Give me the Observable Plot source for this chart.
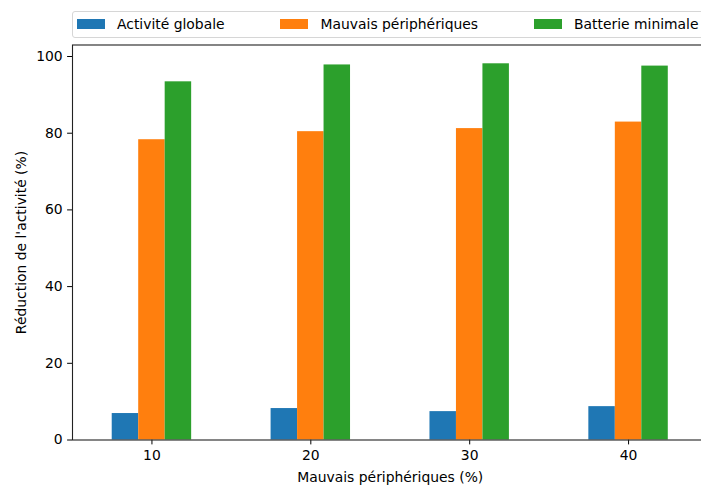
<!DOCTYPE html>
<html>
<head>
<meta charset="utf-8">
<script src="https://cdn.jsdelivr.net/npm/d3@7"></script>
<script src="https://cdn.jsdelivr.net/npm/@observablehq/plot@0.6"></script>
<style>
  html, body { margin: 0; padding: 0; background: #fff; overflow: hidden; }
  #wrap { position: relative; width: 701px; height: 486px; overflow: hidden; font-family: "DejaVu Sans", sans-serif; }
  #legend {
    position: absolute; left: 72px; top: 11px; width: 635.5px; height: 26.5px;
    box-sizing: border-box; border: 1px solid #d6d6d6; border-radius: 3px;
    background: rgba(255,255,255,0.8);
    display: flex; justify-content: space-between; align-items: center;
    padding: 0 8px 0 4px; font-size: 13.9px; color: #000; z-index: 2;
  }
  .item { display: flex; align-items: center; white-space: nowrap; }
  .sw { width: 28px; height: 10px; margin-right: 12px; }
</style>
</head>
<body>
<div id="wrap"><div id="legend"></div></div>
<script>
// ---- data ----
const categories = [10, 20, 30, 40];
const tickLabels = ["10", "20", "30", "40"];
const seriesNames = ["Activité globale", "Mauvais périphériques", "Batterie minimale"];
const activiteGlobale = [6.9, 8.2, 7.4, 8.7];
const mauvaisPeripheriques = [78.3, 80.4, 81.2, 82.9];
const batterieMinimale = [93.4, 97.8, 98.1, 97.5];
const colors = ["#1f77b4", "#ff7f0e", "#2ca02c"];

const seriesValues = [activiteGlobale, mauvaisPeripheriques, batterieMinimale];
const step = 10;           // spacing between categories (data units)
const groupWidth = 0.5 * step;
const barWidth = groupWidth / seriesNames.length;

const rows = [];
seriesNames.forEach((s, i) => {
  categories.forEach((c, j) => {
    rows.push({series: s, index: i, cat: c, value: seriesValues[i][j]});
  });
});

const chart = Plot.plot({
  width: 701,
  height: 486,
  marginLeft: 72,
  marginRight: -6.5,
  marginTop: 44.5,
  marginBottom: 46.5,
  style: {fontFamily: "DejaVu Sans", fontSize: "13.9px", color: "#000", background: "white"},
  x: {
    type: "linear",
    domain: [categories[0] - step / 2, categories[categories.length - 1] + step / 2],
    ticks: categories,
    tickFormat: (d) => tickLabels[categories.indexOf(d)],
    tickSize: 4.9,
    tickPadding: 4.9,
    label: "Mauvais périphériques (%)",
    labelAnchor: "center",
    labelOffset: 42,
    labelArrow: "none"
  },
  y: {
    domain: [0, 103.0],
    ticks: [0, 20, 40, 60, 80, 100],
    tickSize: 4.9,
    tickPadding: 4.9,
    label: "Réduction de l'activité (%)",
    labelAnchor: "center",
    labelOffset: 56,
    labelArrow: "none"
  },
  color: {domain: seriesNames, range: colors},
  marks: [
    Plot.rectY(rows, {
      x1: (d) => d.cat - groupWidth / 2 + d.index * barWidth,
      x2: (d) => d.cat - groupWidth / 2 + (d.index + 1) * barWidth,
      y: "value",
      fill: "series"
    }),
    Plot.frame({stroke: "#222", strokeWidth: 1.1})
  ]
});

const wrap = document.getElementById("wrap");
wrap.appendChild(chart);

const legend = document.getElementById("legend");
seriesNames.forEach((s, i) => {
  const item = document.createElement("div");
  item.className = "item";
  const sw = document.createElement("span");
  sw.className = "sw";
  sw.style.background = colors[i];
  const t = document.createElement("span");
  t.textContent = s;
  item.appendChild(sw);
  item.appendChild(t);
  legend.appendChild(item);
});
</script>
</body>
</html>
